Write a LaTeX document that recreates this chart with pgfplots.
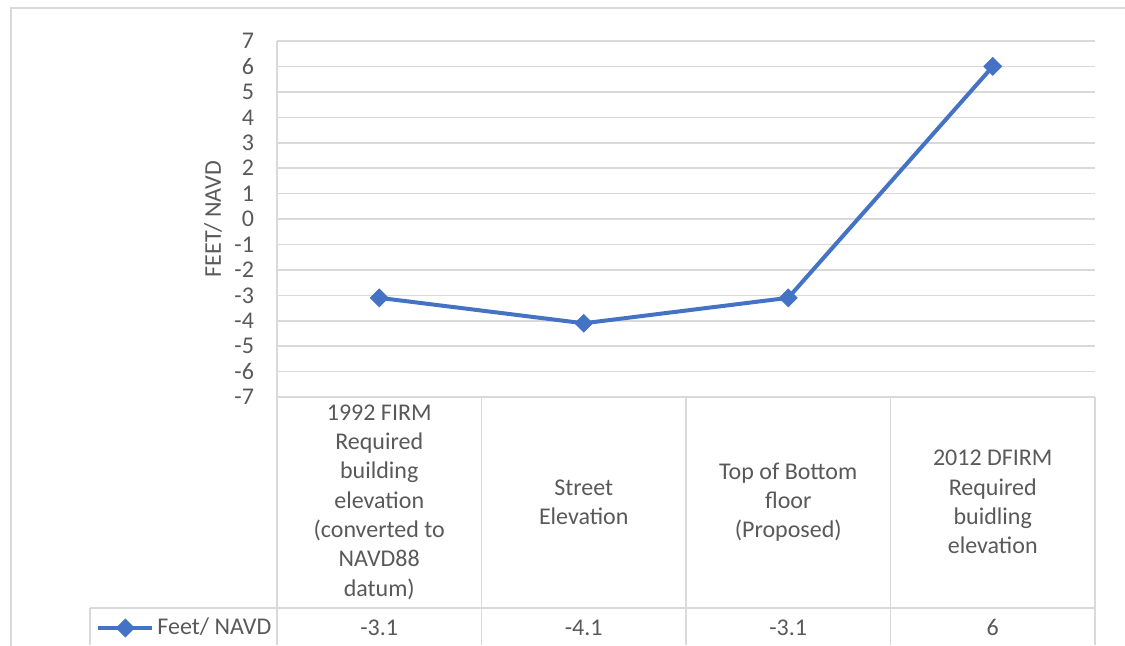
\documentclass[border=0pt]{standalone}
\usepackage{pgfplots}
\pgfplotsset{compat=1.18}
\usepackage{fontspec}
\setmainfont{Carlito}
\definecolor{txt}{RGB}{89,89,89}
\definecolor{grd}{RGB}{217,217,217}
\definecolor{ser}{RGB}{68,114,196}
\begin{document}
\begin{tikzpicture}[x=0.5pt,y=0.5pt,font=\fontsize{12}{14.65}\selectfont]
\useasboundingbox (0,0) rectangle (1125,645);
\begin{scope}
\clip (0,0) rectangle (1125,645);
\draw[grd, line width=0.75pt] (11,637) rectangle (1140,-10);
\end{scope}
\begin{axis}[
  at={(138.5pt,124pt)}, anchor=south west,
  scale only axis, width=409pt, height=178pt,
  xmin=-0.5, xmax=3.5, ymin=-7, ymax=7,
  clip=false,
  ytick={-7,-6,-5,-4,-3,-2,-1,0,1,2,3,4,5,6,7},
  yticklabels={-7,-6,-5,-4,-3,-2,-1,0,1,2,3,4,5,6,7},
  xtick={0,1,2,3},
  xticklabels={{1992 FIRM\\Required\\building\\elevation\\(converted to\\NAVD88\\datum)},{Street\\Elevation},{Top of Bottom\\floor\\(Proposed)},{2012 DFIRM\\Required\\buidling\\elevation}},
  xticklabel style={anchor=center, yshift=-52.5pt, align=center, text=txt},
  yticklabel style={xshift=-8pt, text=txt},
  major tick length=0pt,
  axis line style={draw=none},
  tick style={draw=none},
  ymajorgrids, major grid style={grd, line width=0.8pt},
  ylabel={FEET/ NAVD},
  every axis y label/.style={at={(axis description cs:-0.0782,0.5)}, rotate=90, anchor=center, text=txt},
  legend style={at={(axis description cs:-0.2213,-0.6489)}, anchor=west, draw=none, fill=none, inner sep=0pt, text=txt, nodes={inner sep=1.5pt}},
  legend image code/.code={\draw[#1, mark repeat=2, mark phase=2] plot coordinates {(0pt,0pt)(13.5pt,0pt)(27pt,0pt)};},
]
\addplot[ser, line width=2pt, mark=square*, mark size=3.1pt, mark options={rotate=45, solid, fill=ser, line width=0.5pt}] coordinates {(0,-3.1)(1,-4.1)(2,-3.1)(3,6)};
\addlegendentry{Feet/ NAVD}
\node[text=txt] at (axis cs:0,-16.08) {-3.1};
\node[text=txt] at (axis cs:1,-16.08) {-4.1};
\node[text=txt] at (axis cs:2,-16.08) {-3.1};
\node[text=txt] at (axis cs:3,-16.08) {6};
\end{axis}
\begin{scope}[grd, line width=0.8pt]
\draw (277,604) -- (277,0);
\draw (481.5,248) -- (481.5,0);
\draw (686,248) -- (686,0);
\draw (890.5,248) -- (890.5,0);
\draw (1095,248) -- (1095,0);
\draw (90,37) -- (1095,37);
\draw (90,37) -- (90,0);
\end{scope}
\end{tikzpicture}
\end{document}
